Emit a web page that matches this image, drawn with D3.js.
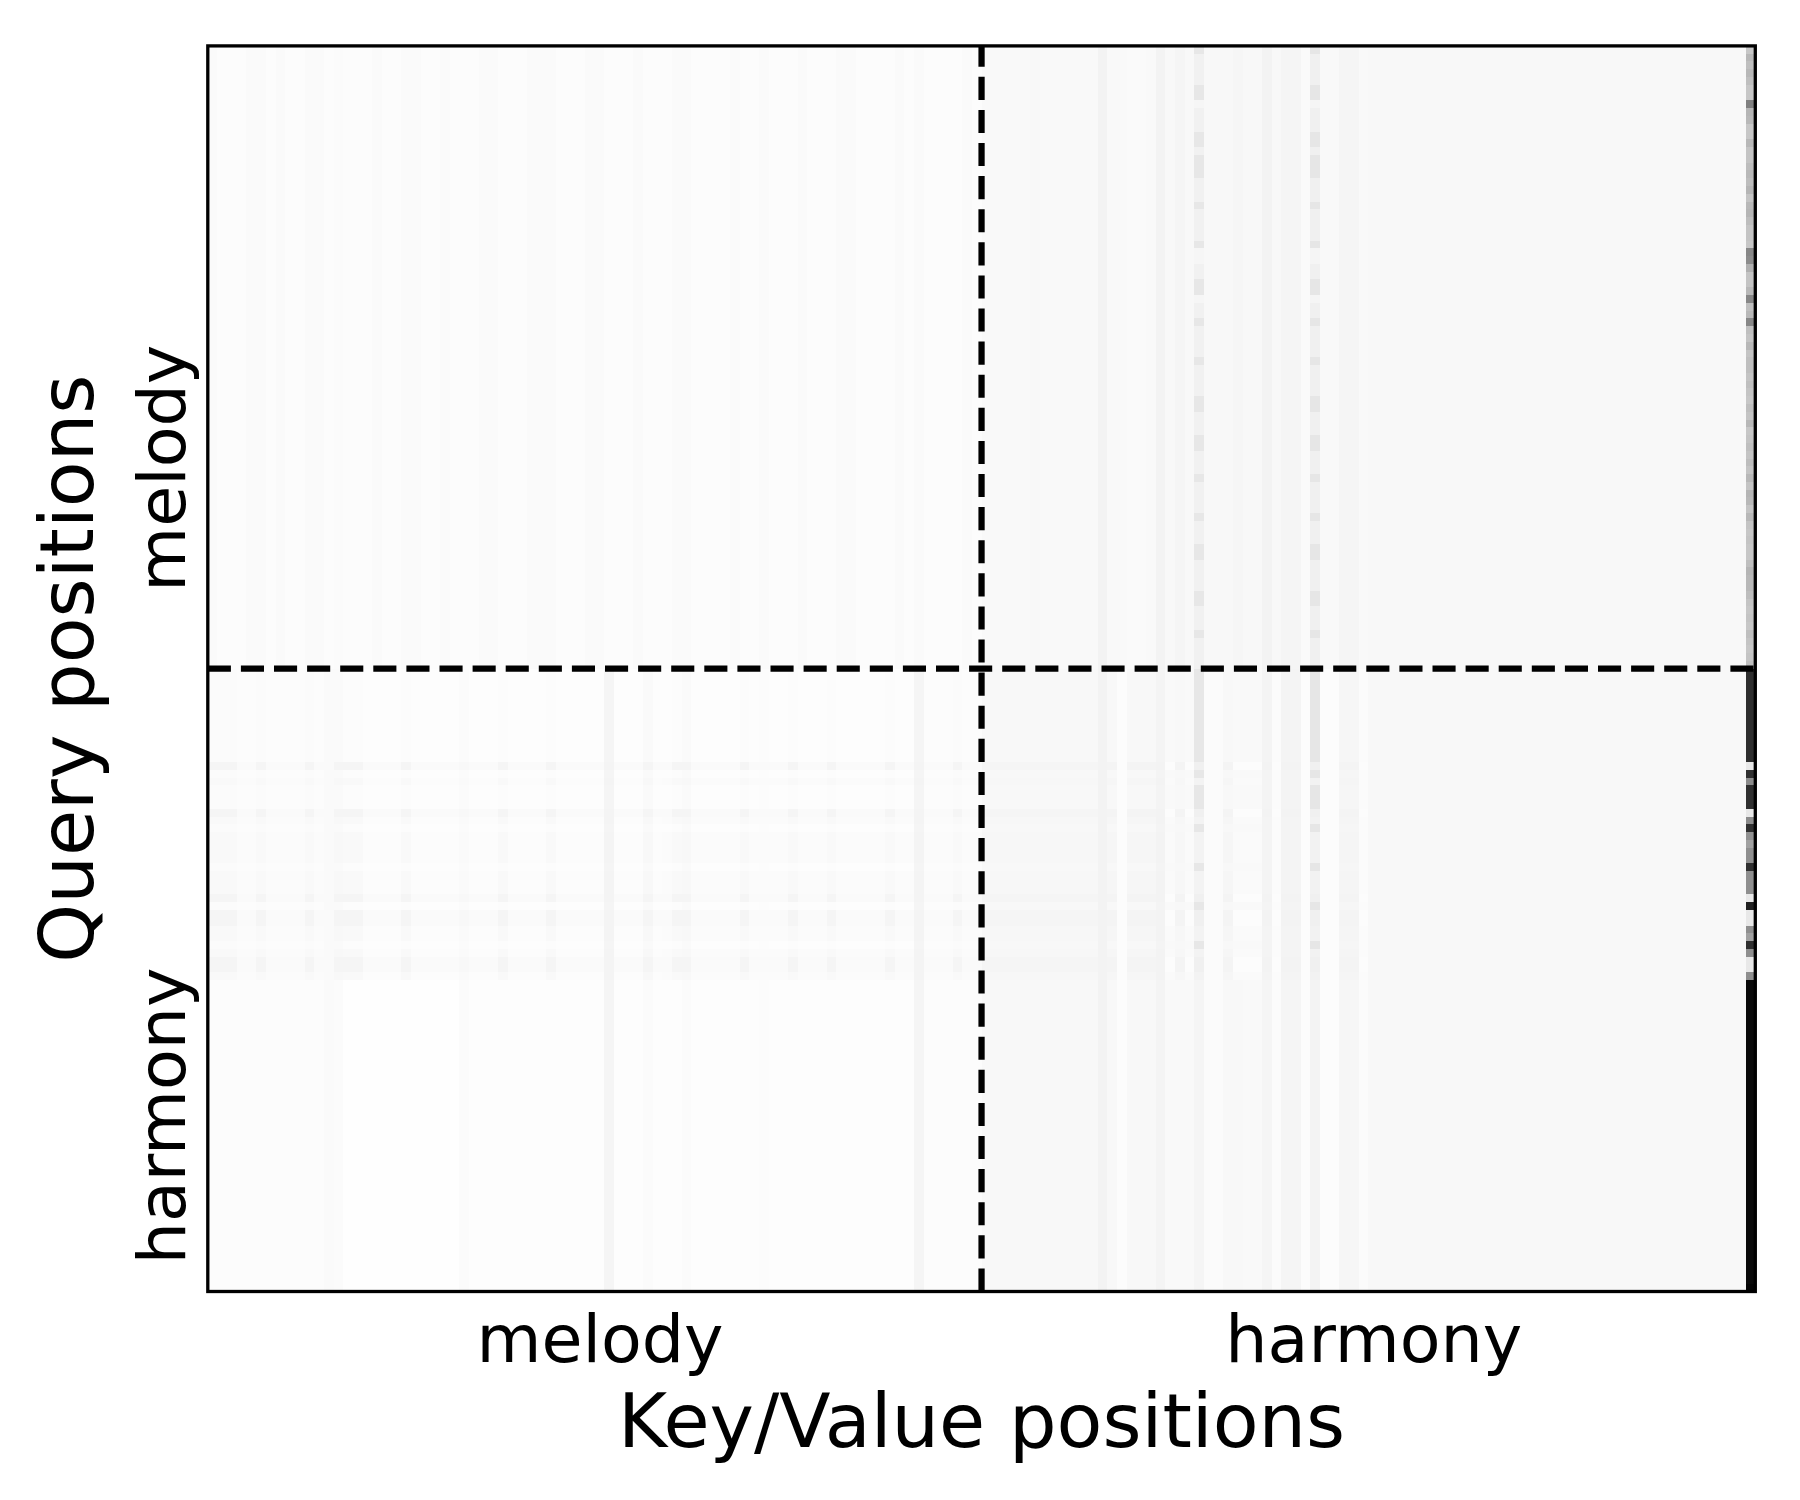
<!DOCTYPE html>
<html>
<head>
<meta charset="utf-8">
<script src="https://cdn.jsdelivr.net/npm/d3@7"></script>
<style>
  body { margin: 0; background: #fff; }
  svg { display: block; font-family: "DejaVu Sans", sans-serif; }
</style>
</head>
<body>
<div id="chart"></div>
<script>
// segments of the token sequence (query and key/value axes)
const segments = ["melody", "harmony"];
const nPos = 160;          // 80 melody + 80 harmony positions
const segmentTicks = [40, 120];
const segmentSplit = 79.5;

// last key column (sink) shade for every query row, 0 = white, 1 = black
const sinkColumn = [
  .22,.28,.25,.28,.25,.22,.22,.50,.29,.28,
  .22,.22,.28,.23,.23,.26,.28,.26,.29,.23,
  .28,.29,.26,.23,.23,.22,.47,.45,.31,.23,
  .23,.28,.47,.25,.28,.47,.25,.23,.28,.23,
  .25,.25,.23,.25,.23,.22,.25,.23,.28,.22,
  .23,.25,.23,.26,.23,.28,.23,.29,.28,.23,
  .28,.23,.22,.23,.22,.22,.25,.29,.28,.28,
  .26,.23,.22,.23,.22,.25,.23,.22,.23,.25,
  .82,.82,.82,.82,.82,.82,.82,.82,.82,.82,
  .82,.82,.09,.81,.45,.81,.81,.81,.09,.45,
  .81,.43,.37,.44,.44,.81,.44,.44,.44,.09,
  .87,.09,.09,.44,.37,.81,.44,.09,.09,.44,
  .96,.96,.96,.96,.96,.96,.96,.96,.96,.96,
  .96,.96,.96,.96,.96,.96,.96,.96,.96,.96,
  .96,.96,.96,.96,.96,.96,.96,.96,.96,.96,
  .96,.96,.96,.96,.96,.96,.96,.96,.96,.98
];

// key shades (cols 0-158) seen by melody queries
const melodyKeys = [
  .018,.010,.012,.010,.019,.018,.011,.019,.010,.012,
  .019,.018,.010,.017,.011,.010,.012,.020,.010,.011,
  .019,.018,.010,.012,.020,.010,.011,.010,.019,.018,
  .010,.012,.010,.019,.020,.018,.010,.011,.010,.019,
  .018,.010,.012,.010,.020,.010,.011,.010,.019,.018,
  .010,.011,.012,.010,.020,.010,.011,.018,.010,.012,
  .010,.019,.011,.010,.012,.019,.018,.010,.011,.010,
  .012,.020,.010,.018,.011,.010,.012,.010,.019,.011,
  .024,.024,.022,.024,.024,.026,.024,.024,.022,.024,
  .024,.024,.047,.024,.022,.020,.020,.022,.047,.027,
  .040,.027,.055,.027,.027,.027,.035,.027,.027,.047,
  .027,.040,.040,.020,.060,.022,.022,.040,.040,.025,
  .027,.027,.027,.027,.027,.027,.027,.027,.027,.027,
  .027,.027,.027,.027,.027,.027,.027,.027,.027,.027,
  .027,.027,.027,.027,.027,.027,.027,.027,.027,.027,
  .027,.027,.027,.027,.027,.027,.027,.027,.027
];

// key shades seen by harmony queries that lean on the sink
const harmonyKeys = [
  .010,.010,.010,.010,.010,.010,.010,.010,.010,.010,
  .010,.010,.020,.014,.005,.005,.005,.005,.005,.005,
  .005,.005,.005,.005,.005,.005,.014,.006,.006,.006,
  .006,.006,.006,.006,.006,.006,.006,.006,.006,.006,
  .006,.040,.007,.007,.007,.014,.007,.008,.008,.016,
  .008,.008,.008,.008,.008,.008,.008,.012,.008,.008,
  .008,.008,.008,.008,.008,.008,.008,.008,.008,.008,
  .008,.008,.008,.040,.010,.010,.010,.010,.010,.010,
  .027,.027,.027,.027,.027,.027,.027,.027,.027,.027,
  .027,.027,.047,.027,.012,.027,.027,.027,.043,.024,
  .024,.024,.040,.016,.016,.027,.027,.024,.024,.040,
  .016,.040,.040,.012,.047,.012,.012,.035,.035,.016,
  .027,.027,.027,.027,.027,.027,.027,.027,.027,.027,
  .027,.027,.027,.027,.027,.027,.027,.027,.027,.027,
  .027,.027,.027,.027,.027,.027,.027,.027,.027,.027,
  .027,.027,.027,.027,.027,.027,.027,.027,.027
];

// key shades seen by harmony queries that spread their attention
const harmonyBandKeys = [
  .040,.040,.040,.020,.020,.040,.020,.020,.020,.020,
  .040,.020,.020,.040,.040,.040,.020,.020,.020,.020,
  .040,.020,.020,.020,.020,.020,.028,.020,.020,.020,
  .040,.020,.020,.020,.020,.040,.020,.020,.020,.020,
  .020,.045,.020,.020,.020,.040,.020,.020,.040,.040,
  .020,.020,.020,.020,.020,.040,.020,.020,.020,.020,
  .040,.020,.020,.020,.040,.020,.020,.020,.020,.020,
  .040,.020,.020,.045,.020,.020,.020,.040,.020,.020,
  .038,.038,.038,.038,.038,.038,.038,.038,.038,.038,
  .038,.038,.048,.042,.012,.042,.042,.042,.048,.012,
  .042,.012,.058,.014,.014,.042,.012,.012,.012,.048,
  .012,.048,.048,.012,.058,.012,.012,.042,.042,.012,
  .027,.027,.027,.027,.027,.027,.027,.027,.027,.027,
  .027,.027,.027,.027,.027,.027,.027,.027,.027,.027,
  .027,.027,.027,.027,.027,.027,.027,.027,.027,.027,
  .027,.027,.027,.027,.027,.027,.027,.027,.027
];

// how spread out each harmony query row is (rows 80-159)
const harmonyRowMix = [
  .15,.15,.15,.15,.15,.15,.15,.15,.15,.15,
  .15,.15,1,.15,.5,.15,.15,.15,1,.5,
  .15,.5,.5,.5,.5,.15,.5,.5,.5,1,
  .15,1,1,.5,.5,.15,.5,1,1,.5,
  0,0,0,0,0,0,0,0,0,0,
  0,0,0,0,0,0,0,0,0,0,
  0,0,0,0,0,0,0,0,0,0,
  0,0,0,0,0,0,0,0,0,0
];

// two harmony keys that stand out, and their extra shade per query row
const accentKeys = [102, 114];
const accentByRow = [
  .04,0,0,0,0,.04,.04,-.02,0,0,
  0,.04,.04,0,.04,.04,.04,0,0,0,
  .04,0,0,0,0,.04,-.02,-.02,0,0,
  .04,.04,-.02,0,0,.04,0,0,0,0,
  .04,0,0,0,0,.04,.04,0,0,0,
  .04,.04,0,0,0,.04,0,0,0,0,
  .04,0,0,0,.04,.04,0,0,0,0,
  .04,.04,0,0,0,.04,0,0,0,0,
  .05,.05,.05,.05,.05,.05,.05,.05,.05,.05,
  .05,.05,0,.05,0,.05,.05,.05,0,0,
  .05,0,0,0,0,.05,0,0,0,0,
  .05,0,0,0,0,.05,0,0,0,0,
  0,0,0,0,0,0,0,0,0,0,
  0,0,0,0,0,0,0,0,0,0,
  0,0,0,0,0,0,0,0,0,0,
  0,0,0,0,0,0,0,0,0,0
];

// build the attention cells
const cells = [];
for (let q = 0; q < nPos; q++) {
  for (let k = 0; k < nPos; k++) {
    let v;
    if (k === nPos - 1) v = sinkColumn[q];
    else if (q < 80) v = melodyKeys[k];
    else {
      const m = harmonyRowMix[q - 80];
      v = (1 - m) * harmonyKeys[k] + m * harmonyBandKeys[k];
    }
    if (k !== nPos - 1 && accentKeys.includes(k)) v += accentByRow[q];
    cells.push({ q, k, v });
  }
}

// layout
const W = 1800, H = 1500;
const margin = { left: 207.8, top: 45.9, right: 44.7, bottom: 208.5 };
const pw = W - margin.left - margin.right,
      ph = H - margin.top - margin.bottom;

const svg = d3.select("#chart").append("svg")
    .attr("width", W)
    .attr("height", H);

const g = svg.append("g")
    .attr("transform", `translate(${margin.left},${margin.top})`);

const x = d3.scaleBand().domain(d3.range(nPos)).range([0, pw]);
const y = d3.scaleBand().domain(d3.range(nPos)).range([0, ph]);
const xLin = d3.scaleLinear().domain([-0.5, nPos - 0.5]).range([0, pw]);
const yLin = d3.scaleLinear().domain([-0.5, nPos - 0.5]).range([0, ph]);
const color = d3.scaleLinear().domain([0, 1]).range(["#ffffff", "#000000"]).clamp(true);

// heatmap
g.append("g")
    .attr("shape-rendering", "crispEdges")
  .selectAll("rect")
  .data(cells)
  .enter().append("rect")
    .attr("x", d => x(d.k))
    .attr("y", d => y(d.q))
    .attr("width", x.bandwidth())
    .attr("height", y.bandwidth())
    .attr("fill", d => color(d.v));

// segment split lines (dashed)
g.append("line")
    .attr("x1", 0).attr("x2", pw)
    .attr("y1", yLin(segmentSplit)).attr("y2", yLin(segmentSplit))
    .style("stroke", "#000")
    .style("stroke-width", 6.25)
    .style("stroke-dasharray", "23.1,10");

g.append("line")
    .attr("x1", xLin(segmentSplit)).attr("x2", xLin(segmentSplit))
    .attr("y1", ph).attr("y2", 0)
    .style("stroke", "#000")
    .style("stroke-width", 6.25)
    .style("stroke-dasharray", "23.1,10");

// frame
g.append("rect")
    .attr("width", pw)
    .attr("height", ph)
    .style("fill", "none")
    .style("stroke", "#000")
    .style("stroke-width", 3.3);

// x axis
const xAxis = g.append("g")
    .attr("transform", `translate(0,${ph})`)
    .call(d3.axisBottom(xLin).tickValues(segmentTicks).tickSize(0).tickFormat((d, i) => segments[i]));
xAxis.select(".domain").remove();
xAxis.selectAll("text")
    .attr("y", 70.5)
    .attr("dy", null)
    .style("font-family", "DejaVu Sans")
    .style("font-size", "66.7px")
    .style("fill", "#000");

// y axis
const yAxis = g.append("g")
    .call(d3.axisLeft(yLin).tickValues(segmentTicks).tickSize(0).tickFormat((d, i) => segments[i]));
yAxis.select(".domain").remove();
yAxis.selectAll("text")
    .attr("x", null)
    .attr("dy", null)
    .attr("text-anchor", "end")
    .attr("transform", "translate(-23,-17) rotate(-90)")
    .style("font-family", "DejaVu Sans")
    .style("font-size", "66.7px")
    .style("fill", "#000");

// axis titles
svg.append("text")
    .attr("x", margin.left + pw / 2)
    .attr("y", 1447)
    .attr("text-anchor", "middle")
    .style("font-size", "75px")
    .style("fill", "#000")
    .text("Key/Value positions");

svg.append("text")
    .attr("transform", `translate(93,${margin.top + ph / 2}) rotate(-90)`)
    .attr("text-anchor", "middle")
    .style("font-size", "75px")
    .style("fill", "#000")
    .text("Query positions");
</script>
</body>
</html>
